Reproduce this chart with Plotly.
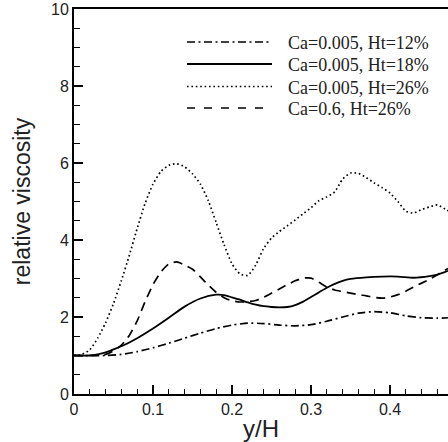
import plotly.graph_objects as go

# ---- data ----
x_ht12 = [0, 0.04, 0.06, 0.08, 0.10, 0.12, 0.14, 0.16, 0.18, 0.20, 0.22, 0.24, 0.26, 0.28,
          0.30, 0.32, 0.34, 0.36, 0.38, 0.40, 0.42, 0.44, 0.46, 0.4734]
y_ht12 = [1.0, 1.0, 1.03, 1.10, 1.20, 1.32, 1.45, 1.58, 1.70, 1.79, 1.84, 1.83, 1.79, 1.77,
          1.80, 1.89, 2.00, 2.10, 2.14, 2.11, 2.03, 1.98, 1.97, 1.98]

x_ht18 = [0, 0.02, 0.03, 0.04, 0.05, 0.06, 0.08, 0.10, 0.12, 0.14, 0.16, 0.18, 0.19, 0.20,
          0.21, 0.22, 0.23, 0.24, 0.25, 0.26, 0.27, 0.28, 0.29, 0.30, 0.31, 0.32, 0.33,
          0.34, 0.35, 0.37, 0.39, 0.41, 0.43, 0.45, 0.46, 0.4734]
y_ht18 = [1.0, 1.0, 1.03, 1.08, 1.16, 1.24, 1.45, 1.70, 1.98, 2.27, 2.48, 2.58, 2.57, 2.51,
          2.45, 2.38, 2.32, 2.28, 2.26, 2.25, 2.26, 2.31, 2.40, 2.52, 2.64, 2.76, 2.86,
          2.94, 2.99, 3.03, 3.05, 3.05, 3.02, 3.06, 3.10, 3.20]

x_ht26 = [0, 0.01, 0.02, 0.03, 0.04, 0.05, 0.06, 0.07, 0.08, 0.09, 0.10, 0.11, 0.12, 0.13,
          0.14, 0.15, 0.16, 0.17, 0.18, 0.19, 0.20, 0.21, 0.22, 0.23, 0.24, 0.25, 0.26,
          0.27, 0.28, 0.29, 0.30, 0.31, 0.32, 0.33, 0.34, 0.35, 0.36, 0.37, 0.38, 0.39,
          0.40, 0.41, 0.42, 0.43, 0.44, 0.45, 0.46, 0.47, 0.4734]
y_ht26 = [1.0, 1.03, 1.15, 1.45, 1.85, 2.35, 2.95, 3.60, 4.30, 4.95, 5.45, 5.78, 5.94, 5.98,
          5.90, 5.72, 5.45, 5.02, 4.45, 3.88, 3.38, 3.12, 3.08, 3.35, 3.78, 4.05, 4.22,
          4.37, 4.52, 4.68, 4.84, 5.02, 5.12, 5.25, 5.58, 5.74, 5.73, 5.62, 5.48, 5.36,
          5.22, 5.00, 4.75, 4.70, 4.79, 4.86, 4.91, 4.80, 4.76]

x_ca06 = [0, 0.02, 0.04, 0.05, 0.06, 0.07, 0.08, 0.09, 0.10, 0.11, 0.12, 0.13, 0.14, 0.15,
          0.16, 0.17, 0.18, 0.19, 0.20, 0.21, 0.22, 0.23, 0.24, 0.25, 0.26, 0.27, 0.28,
          0.29, 0.30, 0.31, 0.32, 0.33, 0.34, 0.35, 0.36, 0.37, 0.38, 0.39, 0.40, 0.41,
          0.42, 0.43, 0.44, 0.45, 0.46, 0.47, 0.4734]
y_ca06 = [1.0, 1.0, 1.03, 1.12, 1.27, 1.52, 1.90, 2.40, 2.84, 3.17, 3.38, 3.43, 3.35, 3.24,
          3.04, 2.83, 2.64, 2.50, 2.42, 2.39, 2.40, 2.43, 2.51, 2.62, 2.73, 2.84, 2.94,
          3.01, 3.01, 2.90, 2.78, 2.70, 2.66, 2.62, 2.58, 2.55, 2.51, 2.49, 2.52, 2.58,
          2.67, 2.78, 2.88, 2.98, 3.10, 3.22, 3.26]

series_names = ["Ca=0.005, Ht=12%", "Ca=0.005, Ht=18%", "Ca=0.005, Ht=26%", "Ca=0.6, Ht=26%"]
x_tickvals = [0, 0.1, 0.2, 0.3, 0.4]
x_ticktext = ["0", "0.1", "0.2", "0.3", "0.4"]
y_tickvals = [0, 2, 4, 6, 8, 10]
y_ticktext = ["0", "2", "4", "6", "8", "10"]
x_title = "y/H"
y_title = "relative viscosity"

# ---- styles ----
dashes = ["8px,3.5px,2px,3.5px", "solid", "1.6px,2.8px", "9px,6px"]
widths = [1.7, 1.8, 1.7, 1.7]
sets = [(x_ht12, y_ht12), (x_ht18, y_ht18), (x_ht26, y_ht26), (x_ca06, y_ca06)]
X_RANGE = [0, 0.4734]
Y_RANGE = [0, 10]

fig = go.Figure()
for (xs, ys), name, d, w in zip(sets, series_names, dashes, widths):
    fig.add_trace(go.Scatter(x=xs, y=ys, mode="lines", name=name,
                             line=dict(color="black", width=w, dash=d, shape="spline", smoothing=0.6),
                             showlegend=False))

W, H = 448, 442
L, R, T, B = 74, 0, 9, 48
pw, ph = W - L - R, H - T - B
def px2x(p): return (p - L) / pw
def py2y(p): return (H - B - p) / ph

# manual legend (long line samples as in the reference)
rows = [42, 64, 86.5, 108]
leg_dashes = ["8px,3.5px,2px,3.5px", "solid", "1.6px,2.8px", "8px,9px"]
for name, d, w, ry in zip(series_names, leg_dashes, widths, rows):
    fig.add_shape(type="line", xref="paper", yref="paper",
                  x0=px2x(187), x1=px2x(272), y0=py2y(ry), y1=py2y(ry),
                  line=dict(color="black", width=w, dash=d))
    fig.add_annotation(xref="paper", yref="paper", x=px2x(286), y=py2y(ry + 1),
                       text=name, showarrow=False, xanchor="left", yanchor="middle",
                       font=dict(family="Liberation Serif", size=18, color="#222"))

tickfont = dict(family="Liberation Sans", size=16, color="#222")
titlefont = dict(family="Liberation Sans", size=23, color="#222")

fig.update_layout(
    width=W, height=H, margin=dict(l=L, r=R, t=T, b=B, pad=0),
    plot_bgcolor="white", paper_bgcolor="white", showlegend=False,
    xaxis=dict(range=X_RANGE, tickmode="array", tickvals=x_tickvals, ticktext=x_ticktext,
               showline=True, linecolor="black", linewidth=2, mirror=True,
               ticks="inside", ticklen=9, tickwidth=1.5, tickcolor="black",
               showgrid=False, zeroline=False, tickfont=tickfont,
               title=dict(text=x_title, font=dict(family="Liberation Sans", size=24, color="#222"),
                          standoff=2)),
    yaxis=dict(range=Y_RANGE, tickmode="array", tickvals=y_tickvals, ticktext=y_ticktext,
               showline=True, linecolor="black", linewidth=2,
               ticks="inside", ticklen=9, tickwidth=1.5, tickcolor="black",
               showgrid=False, zeroline=False, tickfont=tickfont,
               title=dict(text=y_title, font=titlefont, standoff=14)),
    # overlay axes used only for the short minor ticks
    xaxis2=dict(range=X_RANGE, overlaying="x", side="bottom", anchor="y",
                tickmode="linear", tick0=0, dtick=0.02, ticks="inside", ticklen=5,
                tickwidth=1.2, tickcolor="black", showticklabels=False,
                showline=False, showgrid=False, zeroline=False),
    yaxis2=dict(range=Y_RANGE, overlaying="y", side="left", anchor="x",
                tickmode="linear", tick0=0, dtick=0.5, ticks="inside", ticklen=6,
                tickwidth=1.2, tickcolor="black", showticklabels=False,
                showline=False, showgrid=False, zeroline=False),
)
# invisible trace that activates the overlay axes
fig.add_trace(go.Scatter(x=[X_RANGE[0]], y=[Y_RANGE[0]], xaxis="x2", yaxis="y2",
                         mode="markers", marker=dict(opacity=0), hoverinfo="skip",
                         showlegend=False))

fig.write_html("out.html")
